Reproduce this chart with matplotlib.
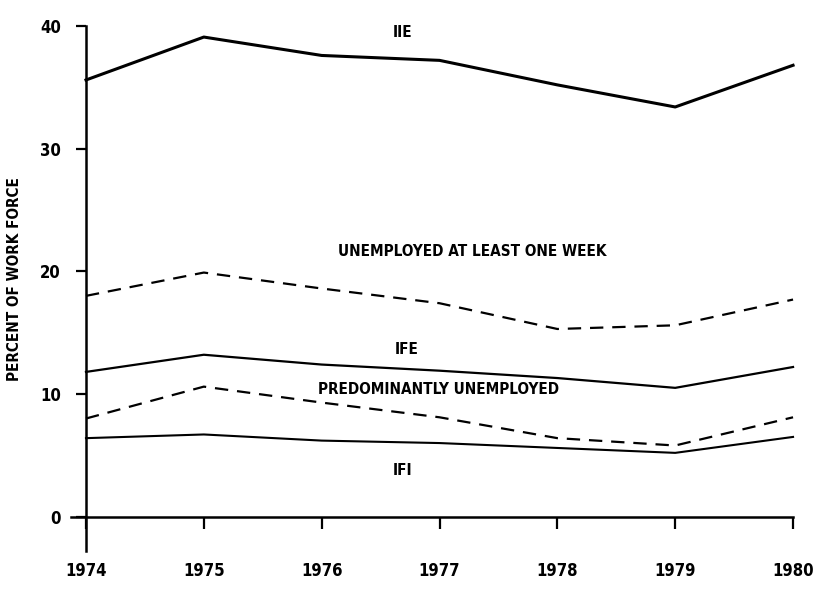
import matplotlib
matplotlib.use("Agg")
import matplotlib.pyplot as plt

# Datos (porcentaje de la fuerza laboral)
anios = [1974, 1975, 1976, 1977, 1978, 1979, 1980]
iie = [35.6, 39.1, 37.6, 37.2, 35.2, 33.4, 36.8]
al_menos_una_semana = [18.0, 19.9, 18.6, 17.4, 15.3, 15.6, 17.7]
ife = [11.8, 13.2, 12.4, 11.9, 11.3, 10.5, 12.2]
predominantemente = [8.0, 10.6, 9.3, 8.1, 6.4, 5.8, 8.1]
ifi = [6.4, 6.7, 6.2, 6.0, 5.6, 5.2, 6.5]

etiquetas_x = ['1974', '1975', '1976', '1977', '1978', '1979', '1980']
ticks_y = [0, 10, 20, 30, 40]

fuente = dict(family='DejaVu Sans', weight='bold', stretch='condensed')

fig = plt.figure(figsize=(8.19, 5.94), dpi=100)
ax = fig.add_axes([0.0762, 0.0724, 0.9137, 0.8838])

# Series
ax.plot(anios, iie, color='black', lw=2.2, solid_joinstyle='round')
ax.plot(anios, al_menos_una_semana, color='black', lw=1.6, dashes=(6, 4))
ax.plot(anios, ife, color='black', lw=1.6)
ax.plot(anios, predominantemente, color='black', lw=1.6, dashes=(6, 4))
ax.plot(anios, ifi, color='black', lw=1.5)

# Etiquetas dentro del grafico
ax.text(1976.69, 39.5, 'IIE', ha='center', va='center', fontsize=11, **fuente)
ax.text(1977.28, 21.6, 'UNEMPLOYED AT LEAST ONE WEEK', ha='center', va='center', fontsize=11, **fuente)
ax.text(1976.72, 13.6, 'IFE', ha='center', va='center', fontsize=11, **fuente)
ax.text(1976.99, 10.35, 'PREDOMINANTLY UNEMPLOYED', ha='center', va='center', fontsize=11, **fuente)
ax.text(1976.69, 3.8, 'IFI', ha='center', va='center', fontsize=11, **fuente)

# Ejes
ax.set_xlim(1973.8, 1980.15)
ax.set_ylim(-2.8, 40)
ax.spines['top'].set_visible(False)
ax.spines['right'].set_visible(False)
ax.spines['left'].set_position(('data', 1974))
ax.spines['bottom'].set_position(('data', 0))
ax.spines['left'].set_bounds(-2.8, 40)
ax.spines['bottom'].set_bounds(1973.87, 1980)
ax.spines['left'].set_linewidth(1.8)
ax.spines['bottom'].set_linewidth(1.8)

ax.set_xticks(anios)
ax.set_xticklabels(etiquetas_x, fontsize=12, **fuente)
ax.set_yticks(ticks_y)
ax.set_yticklabels([str(t) for t in ticks_y], fontsize=12, **fuente)
ax.tick_params(axis='x', direction='out', length=8.5, width=1.6, pad=24)
ax.tick_params(axis='y', direction='out', length=7, width=1.6, pad=11)

ax.set_ylabel('PERCENT OF WORK FORCE', fontsize=11, **fuente)
ax.yaxis.set_label_coords(-0.054, 0.518)

plt.savefig('out.png', dpi=100)
plt.close()
